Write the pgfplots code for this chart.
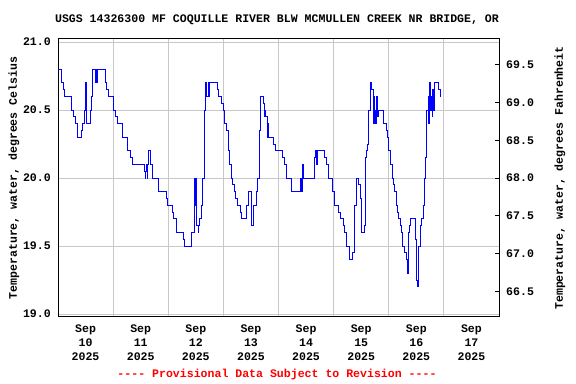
\documentclass[border=0pt]{standalone}
\usepackage{fontspec}
\setmainfont{Liberation Mono}[Ligatures=TeXOff]
\usepackage{pgfplots}
\pgfplotsset{compat=1.18}
\definecolor{gridgray}{RGB}{200,200,200}
\newcommand{\lf}{\bfseries\fontsize{11.6}{13.9}\selectfont}
\begin{document}
\begin{tikzpicture}
\useasboundingbox (-58bp,-68bp) rectangle (518bp,316bp);
\begin{axis}[
  at={(0,0)}, anchor=south west,
  scale only axis, width=441bp, height=277bp,
  xmin=0, xmax=192, ymin=18.985, ymax=21.022,
  axis line style={line width=1bp},
  xtick={12,36,...,180},
  xticklabels={{Sep\\10\\2025},{Sep\\11\\2025},{Sep\\12\\2025},{Sep\\13\\2025},{Sep\\14\\2025},{Sep\\15\\2025},{Sep\\16\\2025},{Sep\\17\\2025}},
  minor xtick={24,48,...,168},
  xminorgrids,
  major tick length=0pt, minor tick length=0pt,
  ytick={19,19.5,...,21},
  ymajorgrids,
  grid style={color=gridgray, line width=0.9bp},
  minor grid style={color=gridgray, line width=0.9bp},
  ytick pos=left, xtick pos=bottom,
  xticklabel style={font=\lf, align=center, inner sep=0pt, yshift=-9bp},
  yticklabel style={font=\lf, inner sep=0pt, xshift=-7bp,
    /pgf/number format/.cd, fixed, fixed zerofill, precision=1, assume math mode=true},
]
\addplot[const plot, color=blue, line width=0.8bp] coordinates {
(0,20.8)(1.6,20.7)(2.2,20.65)(2.8,20.6)(5.9,20.5)(6.8,20.45)(7.4,20.4)(8.6,20.3)(10.0,20.35)(10.6,20.4)(11.5,20.5)(11.8,20.7)(12.1,20.6)(12.2,20.7)(12.4,20.4)(14.1,20.5)(14.7,20.6)(15.0,20.8)(16.1,20.7)(16.3,20.8)(16.6,20.7)(17.0,20.8)(20.5,20.7)(21.2,20.65)(22.0,20.6)(24.1,20.5)(25.2,20.45)(25.7,20.4)
(27.9,20.3)(30.0,20.2)(31.7,20.15)(32.3,20.1)(37.8,20.05)(38.0,20.0)(38.2,20.05)(38.6,20.1)(38.8,20.0)(39.0,20.1)(39.5,20.2)(40.1,20.1)(41.0,20.05)(41.3,20.0)(43.6,19.9)(47.0,19.85)(47.6,19.8)(49.6,19.75)(50.3,19.7)(51.5,19.6)(54.7,19.55)(55.0,19.5)
(58.1,19.6)(59.5,20.0)(59.8,19.8)(60.0,20.0)(60.2,19.65)(60.6,19.65)(61.0,19.6)(61.3,19.65)(61.6,19.7)(62.5,19.8)(63.0,20.0)(63.6,20.5)(64.0,20.6)(64.2,20.7)(64.8,20.6)(65.3,20.7)(65.6,20.6)(66.0,20.7)(69.4,20.65)(70.0,20.6)(71.2,20.55)(72.0,20.5)(72.6,20.4)(73.5,20.35)(74.1,20.2)(74.7,20.1)(75.3,20.0)(76.1,19.95)(76.7,19.9)(77.3,19.85)(77.9,19.8)(79.3,19.75)(79.9,19.7)(82.2,19.8)
(82.9,19.9)(84.1,19.75)(84.4,19.65)(84.9,19.75)(85.2,19.8)(86.3,19.9)(87.0,20.0)(87.6,20.15)(87.9,20.35)(88.1,20.6)(89.3,20.55)(89.9,20.45)(90.1,20.5)(90.4,20.45)(91.0,20.4)(91.3,20.3)(91.4,20.4)(91.6,20.3)(93.9,20.25)(94.8,20.2)(97.7,20.15)(98.6,20.1)(99.5,20.0)(101.8,19.9)(105.6,20.0)(105.8,19.9)(106.0,20.0)(106.2,19.9)(106.4,20.0)(106.6,20.1)(106.9,20.0)
(111.5,20.15)(112.0,20.2)(112.6,20.1)(112.9,20.2)(116.1,20.15)(116.7,20.1)(117.6,20.0)(119.3,19.9)(120.5,19.8)(122.2,19.75)(122.8,19.7)(124.3,19.65)(124.8,19.6)(125.4,19.5)(126.9,19.4)(128.3,19.45)(128.9,19.8)(129.8,19.9)(130.1,20.0)(131.0,19.95)(131.5,19.85)(132.1,19.6)(133.3,19.65)(133.9,20.15)(134.2,20.2)(134.7,20.25)(135.3,20.5)(135.9,20.7)(136.5,20.65)(137.1,20.6)(137.4,20.4)(137.6,20.6)(137.9,20.4)(138.2,20.5)(138.5,20.4)(138.8,20.6)(139.1,20.45)
(139.4,20.5)(141.7,20.4)(142.9,20.35)(143.4,20.3)(144.0,20.2)(144.6,20.1)(145.5,20.0)(146.1,19.95)(146.6,19.9)(147.2,19.8)(147.8,19.75)(148.4,19.7)(149.0,19.65)(149.5,19.6)(150.1,19.5)(150.7,19.45)(151.6,19.4)(152.2,19.3)(152.4,19.4)(152.5,19.6)(153.0,19.65)(153.6,19.7)(155.4,19.6)(155.7,19.55)(156.2,19.25)(156.5,19.2)(157.1,19.5)(157.7,19.65)(158.3,19.7)(158.9,19.8)(159.4,20.0)(160.0,20.15)(160.6,20.5)(161.2,20.6)(161.4,20.4)(161.6,20.55)(161.8,20.7)(162.3,20.5)(162.6,20.6)(162.9,20.45)(163.2,20.65)(163.5,20.5)(163.8,20.7)(165.8,20.65)(166.4,20.6)(166.6,20.6)
};
\end{axis}
\begin{axis}[
  at={(0,0)}, anchor=south west,
  scale only axis, width=441bp, height=277bp,
  xmin=0, xmax=192, ymin=66.173, ymax=69.84,
  axis x line=none, axis y line*=right,
  axis line style={line width=1bp},
  ytick={66.5,67,...,69.5},
  tick align=inside, major tick length=4bp,
  tick style={color=black, line width=0.8bp},
  yticklabel style={font=\lf, inner sep=0pt, xshift=7bp,
    /pgf/number format/.cd, fixed, fixed zerofill, precision=1, assume math mode=true},
]
\addplot[draw=none] coordinates {(0,67)};
\end{axis}
\node[font=\lf, anchor=base] at (219bp,293bp) {USGS 14326300 MF COQUILLE RIVER BLW MCMULLEN CREEK NR BRIDGE, OR};
\node[font=\lf, text=red] at (219bp,-59bp) {\mbox{-}\mbox{-}\mbox{-}\mbox{-} Provisional Data Subject to Revision \mbox{-}\mbox{-}\mbox{-}\mbox{-}};
\node[font=\lf, rotate=90] at (-44bp,138bp) {Temperature, water, degrees Celsius};
\node[font=\lf, rotate=90] at (502bp,138bp) {Temperature, water, degrees Fahrenheit};
\end{tikzpicture}
\end{document}
